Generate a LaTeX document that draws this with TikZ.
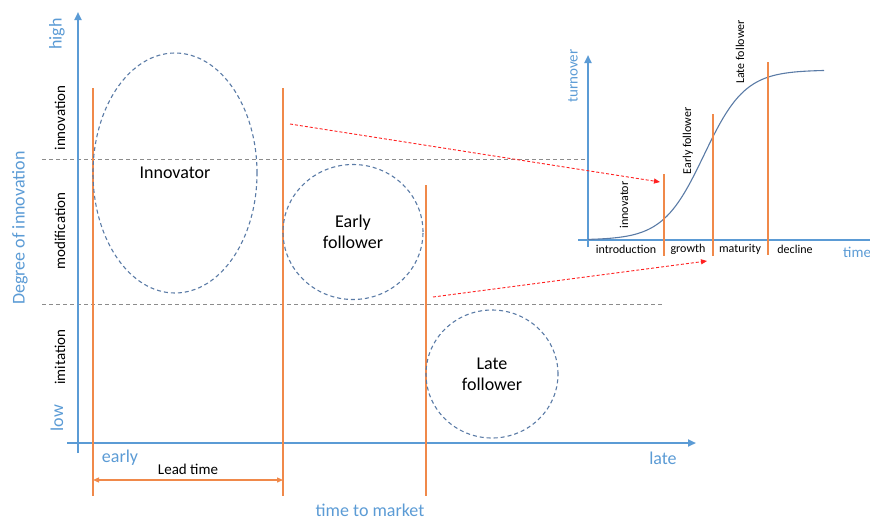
\documentclass[tikz,border=0pt]{standalone}
\usepackage{fontspec}
\setmainfont{Carlito}
\usetikzlibrary{arrows.meta,shapes.geometric}
\definecolor{axisblue}{HTML}{5B9BD5}
\definecolor{lineorange}{HTML}{F0894A}
\definecolor{ringblue}{HTML}{5A7BA6}
\definecolor{guidegray}{HTML}{8C8C8C}
\definecolor{hintred}{HTML}{FF2020}
\tikzset{
  axisline/.style={draw=axisblue, line width=2.8pt, -{Triangle[length=8pt,width=7pt]}},
  flatline/.style={draw=axisblue, line width=2.6pt},
  marker/.style={draw=lineorange, line width=1.6pt},
  guide/.style={draw=guidegray, dash pattern=on 4pt off 3pt, line width=0.9pt},
  ring/.style={ellipse, draw=ringblue, dash pattern=on 4pt off 3pt, line width=1.1pt,
    inner sep=0pt, align=center, font=\fontsize{18}{21}\selectfont},
  hint/.style={draw=hintred, dash pattern=on 3pt off 2pt, line width=0.9pt,
    -{Triangle[length=6pt,width=5pt]}},
  bluelab/.style={text=axisblue, inner sep=0pt, font=\fontsize{18}{21}\selectfont},
  levellab/.style={rotate=90, inner sep=0pt, font=\fontsize{15}{18}\selectfont},
  smalllab/.style={inner sep=0pt, font=\fontsize{12}{14}\selectfont},
}
\begin{document}
\begin{tikzpicture}[x=1pt,y=-1pt]
\useasboundingbox (0,0) rectangle (870,522);

% level separators
\coordinate (g1a) at (42,159);  \coordinate (g1b) at (588,159);
\coordinate (g2a) at (42,304);  \coordinate (g2b) at (663,304);
\draw[guide] (g1a) -- (g1b);
\draw[guide] (g2a) -- (g2b);

% main axes
\coordinate (yb) at (78,453);  \coordinate (yt) at (78,12);
\coordinate (xl) at (67,443);  \coordinate (xr) at (696,443);
\draw[axisline] (yb) -- (yt);
\draw[axisline] (xl) -- (xr);

% entry times
\coordinate (m1t) at (93,88);   \coordinate (m1b) at (93,496);
\coordinate (m2t) at (283,88);  \coordinate (m2b) at (283,496);
\coordinate (m3t) at (426,185); \coordinate (m3b) at (426,496);
\draw[marker] (m1t) -- (m1b);
\draw[marker] (m2t) -- (m2b);
\draw[marker] (m3t) -- (m3b);

% lead time
\coordinate (lt1) at (93,480); \coordinate (lt2) at (283,480);
\draw[marker, line width=1.3pt, {Triangle[length=6pt,width=5pt]}-{Triangle[length=6pt,width=5pt]}] (lt1) -- (lt2);
\node[inner sep=0pt, font=\fontsize{15}{18}\selectfont] (leadlab) at (188,469) {Lead time};

% market entrants
\node[ring, minimum width=164pt, minimum height=240pt] (innov) at (175,173) {\raisebox{-3pt}{Innovator}};
\node[ring, minimum width=140pt, minimum height=135pt] (early) at (353,232) {Early\\follower};
\node[ring, minimum width=132pt, minimum height=128pt] (late) at (492,374) {Late\\follower};

% axis labels
\node[bluelab, rotate=90] (high) at (57,34) {high};
\node[bluelab, rotate=90] (low) at (57,418) {low};
\node[bluelab, rotate=90] (degree) at (20,228) {Degree of innovation};
\node[bluelab] (earlylab) at (120,458) {early};
\node[bluelab] (latelab) at (663,458) {late};
\node[bluelab] (ttm) at (370,510) {time to market};

\node[levellab] (lv1) at (60,118) {innovation};
\node[levellab] (lv2) at (60,231) {modification};
\node[levellab] (lv3) at (60,357) {imitation};

% product life cycle
\coordinate (iyb) at (588,247); \coordinate (iyt) at (588,55);
\coordinate (ixl) at (578,240); \coordinate (ixr) at (870,240);
\draw[axisline, line width=2.4pt] (iyb) -- (iyt);
\draw[flatline, line width=2.4pt] (ixl) -- (ixr);
\draw[draw=ringblue, line width=1.1pt, domain=588:824, samples=120, smooth]
  plot (\x, {240-170/(1+exp(-(\x-704)/20.5))});

\coordinate (p1t) at (664,174); \coordinate (p1b) at (664,256);
\coordinate (p2t) at (713,114); \coordinate (p2b) at (713,256);
\coordinate (p3t) at (768,62);  \coordinate (p3b) at (768,255);
\draw[marker] (p1t) -- (p1b);
\draw[marker] (p2t) -- (p2b);
\draw[marker] (p3t) -- (p3b);

\node[text=axisblue, rotate=90, inner sep=0pt, font=\fontsize{15}{18}\selectfont] (turn) at (573,76) {turnover};
\node[text=axisblue, anchor=west, inner sep=0pt, font=\fontsize{15}{18}\selectfont] (timelab) at (843,252) {time};

\node[smalllab] (ph1) at (626,249) {introduction};
\node[smalllab] (ph2) at (688,249) {growth};
\node[smalllab] (ph3) at (740,249) {maturity};
\node[smalllab] (ph4) at (795,249) {decline};

\node[smalllab, rotate=90] (e1) at (624,205) {innovator};
\node[smalllab, rotate=90] (e2) at (688,141) {Early follower};
\node[smalllab, rotate=90] (e3) at (740,52) {Late follower};

% links into the life cycle
\coordinate (r1a) at (290,124); \coordinate (r1b) at (660,182);
\coordinate (r2a) at (433,297); \coordinate (r2b) at (707,261);
\draw[hint] (r1a) -- (r1b);
\draw[hint] (r2a) -- (r2b);
\end{tikzpicture}
\end{document}
